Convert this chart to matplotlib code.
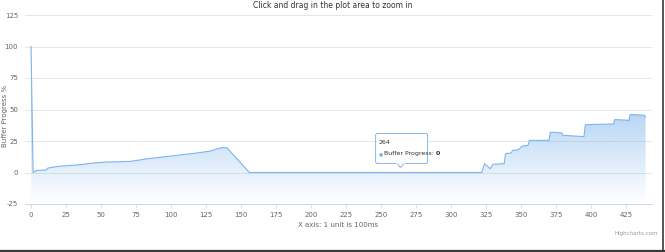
import numpy as np
import matplotlib
matplotlib.use('Agg')
import matplotlib.pyplot as plt
from matplotlib.patches import Polygon, FancyBboxPatch
from matplotlib.lines import Line2D

# Buffer progress samples (x unit = 100ms)
x_vals = [0, 1.5, 4, 11, 12, 19, 36, 44, 54, 71, 83, 104, 118, 128, 136, 140,
          147, 156, 200, 264, 322, 324, 328, 330, 338, 339, 343, 344, 348, 351,
          355, 356, 370, 371, 379, 380, 395, 396, 416, 417, 426, 427, 428, 438, 439]
y_vals = [100, 0, 1.6, 2, 3.5, 4.8, 6.3, 7.5, 8.3, 8.8, 10.9, 13.6, 15.4, 17, 19.7, 19.7,
          11, 0, 0, 0, 0, 7, 3, 6.5, 7, 15, 15.5, 17.5, 18, 21,
          21.5, 25.5, 25.5, 32, 31.5, 29.5, 28.5, 38, 38.5, 42, 41.5, 41, 46, 45.5, 44]

x_ticks = list(range(0, 426, 25))
y_ticks = [-25, 0, 25, 50, 75, 100, 125]

tip_x = 264
tip_y = 0

title = 'Click and drag in the plot area to zoom in'
x_title = 'X axis: 1 unit is 100ms'
y_title = 'Buffer Progress %'

line_color = '#7cb5ec'
text_grey = '#666666'
plt.rcParams['font.family'] = ['Liberation Sans Narrow', 'DejaVu Sans']

W, H = 665, 252
fig = plt.figure(figsize=(W / 100, H / 100), dpi=100)
ax = fig.add_axes([25 / W, 1 - 204 / H, (652 - 25) / W, (204 - 15) / H])
ax.set_xlim(-4.3, 443.6)
ax.set_ylim(-25, 125)

# gradient fill below the line
verts = list(zip(x_vals, y_vals)) + [(x_vals[-1], -25), (x_vals[0], -25)]
clip = Polygon(verts, closed=True, facecolor='none', edgecolor='none')
ax.add_patch(clip)
grad = np.zeros((256, 2, 4))
grad[:, :, :3] = matplotlib.colors.to_rgb(line_color)
grad[:, :, 3] = np.linspace(0.95, 0, 256)[:, None]
im = ax.imshow(grad, extent=[x_vals[0], x_vals[-1], -25, 100], aspect='auto',
               origin='upper', zorder=1)
im.set_clip_path(clip)
ax.plot(x_vals, y_vals, color=line_color, lw=0.8, zorder=3)

ax.set_xticks(x_ticks)
ax.set_yticks(y_ticks)
ax.set_xticklabels([str(t) for t in x_ticks])
ax.set_yticklabels([str(t) for t in y_ticks])
ax.tick_params(axis='x', length=3, width=0.6, color='#ccd6eb', pad=2.5,
               labelsize=5, labelcolor=text_grey)
ax.tick_params(axis='y', length=0, pad=5, labelsize=5, labelcolor=text_grey)
ax.grid(axis='y', color='#e6e6e6', lw=0.7)
ax.set_axisbelow(True)
for s in ['top', 'right', 'left']:
    ax.spines[s].set_visible(False)
ax.spines['bottom'].set_color('#ccd6eb')
ax.spines['bottom'].set_linewidth(0.7)

fig.text(0.5, 1 - 5 / H, title, ha='center', va='center', fontsize=5.5, color='#333333')
fig.text(338 / W, 1 - 225 / H, x_title, ha='center', va='center', fontsize=5, color=text_grey)
fig.text(5 / W, 1 - 116 / H, y_title, ha='center', va='center', rotation=90,
         fontsize=5, color=text_grey)
fig.text(658 / W, 1 - 233 / H, 'Highcharts.com', ha='right', va='center',
         fontsize=4, color='#999999')

# tooltip
fig.canvas.draw()
renderer = fig.canvas.get_renderer()
px, py = ax.transData.transform((tip_x, tip_y))
bw, bh = 52, 30
bx, by = px - 25, py + 9
box = FancyBboxPatch((bx, by), bw, bh, boxstyle='round,pad=0,rounding_size=2',
                     transform=None, facecolor='white', edgecolor=line_color,
                     lw=0.7, alpha=0.95, zorder=10)
fig.add_artist(box)
tri = Polygon([(px - 4, by + 0.5), (px + 4, by + 0.5), (px, by - 4)], closed=True,
              transform=None, facecolor='white', edgecolor=line_color, lw=0.7, zorder=10)
fig.add_artist(tri)
fig.add_artist(Line2D([px - 3.5, px + 3.5], [by + 0.5, by + 0.5], transform=None,
                      color='white', lw=1.2, zorder=11))
fig.text(bx + 3, by + bh - 9, str(tip_x), transform=None, fontsize=4.5, color='#333333',
         ha='left', va='center', zorder=12)
fig.text(bx + 3, by + bh - 20, '\u25cf', transform=None, fontsize=3.5, color=line_color,
         ha='left', va='center', zorder=12, family='DejaVu Sans')
lbl = fig.text(bx + 8, by + bh - 20, 'Buffer Progress:', transform=None, fontsize=4.5,
               color='#333333', ha='left', va='center', zorder=12)
ext = lbl.get_window_extent(renderer)
fig.text(ext.x1 + 2, by + bh - 20, str(tip_y), transform=None, fontsize=4.5,
         color='#333333', ha='left', va='center', zorder=12, weight='bold')

# screenshot frame on right and bottom
fig.add_artist(Line2D([0, 1], [1.2 / H, 1.2 / H], transform=fig.transFigure,
                      color='#3a3a3a', lw=1.6))
fig.add_artist(Line2D([1 - 2 / W, 1 - 2 / W], [0, 1], transform=fig.transFigure,
                      color='#3a3a3a', lw=1.2))

fig.savefig('out.png', dpi=100)
